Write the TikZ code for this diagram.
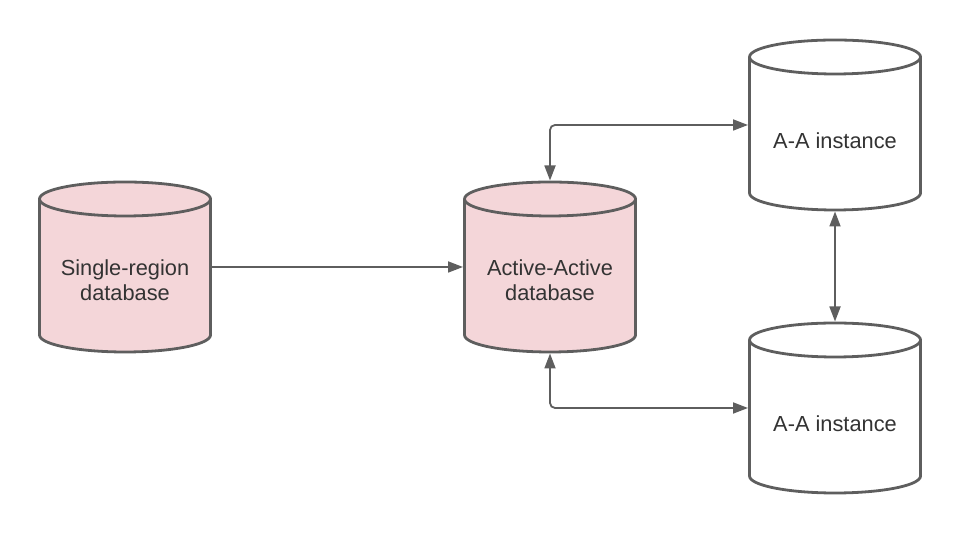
\documentclass[tikz,border=0pt]{standalone}
\usepackage{fontspec}
\setmainfont{Liberation Sans}
\usetikzlibrary{arrows.meta}
\definecolor{dbline}{RGB}{94,94,94}
\definecolor{dbpink}{RGB}{244,214,217}
\definecolor{dbtext}{RGB}{51,51,51}
\tikzset{
	dbbox/.style={rectangle, minimum width=171pt, minimum height=170pt, inner sep=0pt, outer sep=1.5pt},
	dblabel/.style={align=center, text=dbtext, inner sep=0pt, font=\fontsize{21.8}{25.5}\selectfont},
	dbedge/.style={line width=2.8pt, draw=dbline},
	link/.style={draw=dbline, line width=1.8pt, rounded corners=5pt, {Triangle[length=15pt,width=11pt]}-{Triangle[length=15pt,width=11pt]}},
	oneway/.style={draw=dbline, line width=1.8pt, -{Triangle[length=15pt,width=11pt]}},
}
\def\dbcyl[#1](#2)(#3,#4:#5)#6{
	\filldraw[dbedge, fill=#1] (#3-85.5,#4+68) -- (#3-85.5,#4-68) arc (180:360:85.5pt and 17pt) -- (#3+85.5,#4+68) arc (0:180:85.5pt and 17pt) -- cycle;
	\draw[dbedge] (#3-85.5,#4+68) arc (180:360:85.5pt and 17pt);
	\node[dbbox] (#2) at (#3,#4) {};
	\node[dblabel] (#2-text) at ([yshift=#5]#2.center) {#6};
}

\begin{document}
\begin{tikzpicture}[x=1pt,y=1pt]
	%%%%% START %%%%%
	\useasboundingbox (0,0) rectangle (960,534);
	
	\dbcyl[dbpink](single)(125,267:-13pt){Single-region\\database}
	\dbcyl[dbpink](active)(550,267:-13pt){Active-Active\\database}
	\dbcyl[white](inst1)(835,409:-16pt){A-A instance}
	\dbcyl[white](inst2)(835,126:-16pt){A-A instance}
	
	\draw[oneway] (single.east) -- (active.west);
	\draw[link] (active.north) |- (inst1.west);
	\draw[link] (active.south) |- (inst2.west);
	\draw[link, rounded corners=0pt] (inst1.south) -- (inst2.north);
	%%%%% END %%%%%
\end{tikzpicture}
\end{document}
